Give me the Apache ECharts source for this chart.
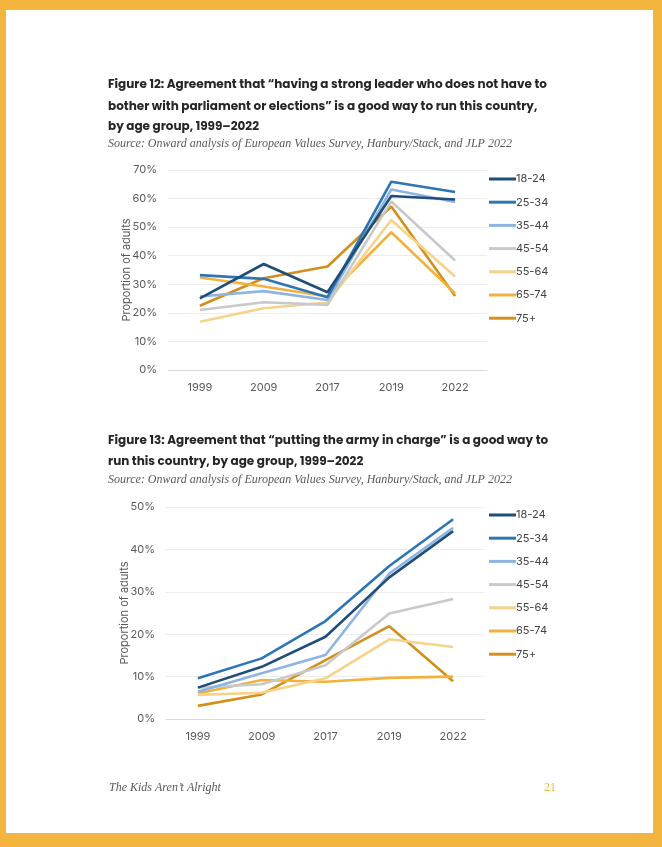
<!DOCTYPE html>
<html><head><meta charset="utf-8">
<script src="https://cdn.jsdelivr.net/npm/echarts@6/dist/echarts.min.js"></script>
<style>html,body{margin:0;padding:0;background:#fff}#c{width:662px;height:847px}</style>
</head><body><div id="c"></div>
<script>
const years = ['1999','2009','2017','2019','2022'];
const groups = ['18-24','25-34','35-44','45-54','55-64','65-74','75+'];
const colors = ['#1F4E79','#2E75B6','#8EB4E3','#C9C9C9','#F5D38A','#F2B13D','#D38F1C'];
// Figure 12: strong leader (%)
const leader_18_24 = [25.1, 37.1, 27.2, 60.9, 59.7];
const leader_25_34 = [33.2, 31.9, 25.5, 65.9, 62.3];
const leader_35_44 = [25.7, 27.6, 24.5, 63.2, 58.8];
const leader_45_54 = [21.0, 23.7, 22.8, 59.0, 38.3];
const leader_55_64 = [16.9, 21.6, 23.6, 52.5, 32.7];
const leader_65_74 = [32.4, 29.2, 25.7, 48.2, 26.8];
const leader_75 = [22.5, 32.1, 36.2, 57.2, 25.9];
// Figure 13: army in charge (%)
const army_18_24 = [7.4, 12.3, 19.4, 33.4, 44.3];
const army_25_34 = [9.6, 14.3, 23.1, 36.1, 47.1];
const army_35_44 = [6.4, 10.8, 15.1, 34.3, 45.1];
const army_45_54 = [7.4, 8.2, 12.7, 24.9, 28.3];
const army_55_64 = [5.7, 6.2, 9.6, 18.8, 17.0];
const army_65_74 = [6.0, 9.2, 8.8, 9.7, 10.0];
const army_75 = [3.1, 5.8, 13.9, 21.9, 8.9];
const yTicks1 = {min:0, max:70, interval:10};
const yTicks2 = {min:0, max:50, interval:10};

const leaderData = [leader_18_24, leader_25_34, leader_35_44, leader_45_54, leader_55_64, leader_65_74, leader_75];
const armyData = [army_18_24, army_25_34, army_35_44, army_45_54, army_55_64, army_65_74, army_75];

const chart = echarts.init(document.getElementById('c'), null, {renderer:'canvas'});
const axisFont = {color:'#595959', fontSize:11, fontFamily:'Inter, "Open Sans", sans-serif'};
function xAx(gi){return {type:'category', gridIndex:gi, data:years, axisTick:{show:false},
  axisLine:{lineStyle:{color:'#D9D9D9'}}, axisLabel:Object.assign({margin:12}, axisFont)};}
function yAx(gi, t){return {type:'value', gridIndex:gi, min:t.min, max:t.max, interval:t.interval,
  axisLabel:Object.assign({formatter:'{value}%', margin:11}, axisFont),
  splitLine:{lineStyle:{color:'#EDEDED'}}, axisLine:{show:false}, axisTick:{show:false},
  name:'Proportion of adults', nameLocation:'middle', nameGap:36, nameRotate:90, nameMoveOverlap:false,
  nameTextStyle:Object.assign({}, axisFont, {fontSize:11})};}
const series = [];
groups.forEach((g,i)=>{
  series.push({name:g, type:'line', xAxisIndex:0, yAxisIndex:0, data:leaderData[i], symbol:'none',
    lineStyle:{width:2.6, color:colors[i]}, itemStyle:{color:colors[i]}, z:10-i});
  series.push({name:g, type:'line', xAxisIndex:1, yAxisIndex:1, data:armyData[i], symbol:'none',
    lineStyle:{width:2.6, color:colors[i]}, itemStyle:{color:colors[i]}, z:10-i});
});
const legendBase = {orient:'vertical', left:484, data:groups, icon:'rect', itemWidth:27, itemHeight:3,
  itemGap:9.2, selectedMode:false, textStyle:{color:'#404040', fontSize:11, lineHeight:14, padding:[0,0,0,-5],
  fontFamily:'Inter, "Open Sans", sans-serif'}};
const titleFont = 'bold 12px Poppins, Inter, "Open Sans", sans-serif';
const srcFont = 'italic 12px "Liberation Serif", "DejaVu Serif", serif';
function txt(x,y,t,font,fill){return {type:'text', left:x, top:y, style:{text:t, font:font, fill:fill}};}
chart.setOption({
  animation:false,
  grid:[{left:168, width:319, top:170, height:200},{left:166, width:319, top:507, height:212}],
  xAxis:[xAx(0), xAx(1)],
  yAxis:[yAx(0,yTicks1), yAx(1,yTicks2)],
  legend:[Object.assign({top:167}, legendBase), Object.assign({top:503}, legendBase)],
  series:series,
  graphic:[
    {type:'rect', left:0, top:0, shape:{width:662, height:10}, style:{fill:'#F4B53F'}},
    {type:'rect', left:0, top:833, shape:{width:662, height:14}, style:{fill:'#F4B53F'}},
    {type:'rect', left:0, top:0, shape:{width:6, height:847}, style:{fill:'#F4B53F'}},
    {type:'rect', left:653, top:0, shape:{width:9, height:847}, style:{fill:'#F4B53F'}},
    txt(108,79,'Figure 12: Agreement that \u201chaving a strong leader who does not have to',titleFont,'#262626'),
    txt(108,101,'bother with parliament or elections\u201d is a good way to run this country,',titleFont,'#262626'),
    txt(108,121,'by age group, 1999\u20132022',titleFont,'#262626'),
    txt(108,138,'Source: Onward analysis of European Values Survey, Hanbury/Stack, and JLP 2022',srcFont,'#595959'),
    txt(108,435,'Figure 13: Agreement that \u201cputting the army in charge\u201d is a good way to',titleFont,'#262626'),
    txt(108,456,'run this country, by age group, 1999\u20132022',titleFont,'#262626'),
    txt(108,474,'Source: Onward analysis of European Values Survey, Hanbury/Stack, and JLP 2022',srcFont,'#595959'),
    txt(109,782,'The Kids Aren\u2019t Alright','italic 12px "Liberation Serif", "DejaVu Serif", serif','#595959'),
    txt(544,782,'21','12px "Liberation Serif", serif','#F0B640')
  ]
});
</script></body></html>
